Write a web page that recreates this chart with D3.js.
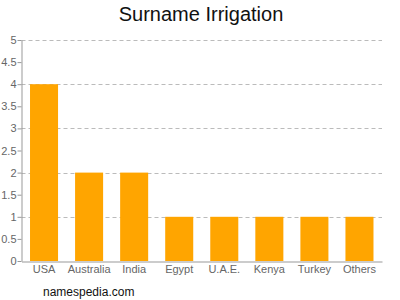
<!DOCTYPE html>
<html>
<head>
<meta charset="utf-8">
<script src="https://cdn.jsdelivr.net/npm/d3@7"></script>
<style>
  body { margin: 0; background: #fff; }
  text { font-family: "Liberation Sans", Arial, sans-serif; }
</style>
</head>
<body>
<div id="chart"></div>
<script>
// chart data
var countries = ["USA", "Australia", "India", "Egypt", "U.A.E.", "Kenya", "Turkey", "Others"];
var counts = [4, 2, 2, 1, 1, 1, 1, 1];
var yTicks = [0, 0.5, 1, 1.5, 2, 2.5, 3, 3.5, 4, 4.5, 5];

var width = 400;
var height = 300;
var margin = { top: 40, right: 18, bottom: 39, left: 21.5 };

var svg = d3.select("#chart").append("svg")
    .attr("width", width)
    .attr("height", height);

var x = d3.scaleBand()
    .domain(countries)
    .range([margin.left, width - margin.right])
    .paddingInner(0.378)
    .paddingOuter(0.189);

var y = d3.scaleLinear()
    .domain([0, 5])
    .range([height - margin.bottom, margin.top]);

// dashed grid
svg.append("g")
    .selectAll("line")
    .data(yTicks.filter(function(d) { return d > 0 && d % 1 === 0; }))
    .enter().append("line")
    .attr("x1", margin.left)
    .attr("x2", width - margin.right)
    .attr("y1", function(d) { return Math.round(y(d)) + 0.5; })
    .attr("y2", function(d) { return Math.round(y(d)) + 0.5; })
    .attr("stroke", "#bbb")
    .attr("stroke-dasharray", "4,3");

// bars
svg.append("g")
    .selectAll("rect")
    .data(countries)
    .enter().append("rect")
    .attr("x", function(d) { return x(d); })
    .attr("y", function(d, i) { return y(counts[i]); })
    .attr("width", x.bandwidth())
    .attr("height", function(d, i) { return y(0) - y(counts[i]); })
    .attr("fill", "#ffa500");

// y axis
var yAxis = svg.append("g")
    .attr("transform", "translate(" + (Math.round(margin.left) - 0.5) + ",0)")
    .call(d3.axisLeft(y).tickValues(yTicks).tickSize(4).tickSizeOuter(0)
        .tickFormat(function(d) { return d; }));
yAxis.select(".domain").attr("stroke", "#999");
yAxis.selectAll(".tick line").attr("stroke", "#999");
yAxis.selectAll(".tick text")
    .attr("fill", "#666")
    .attr("font-size", 11)
    .attr("x", -5);

// x axis
var xAxis = svg.append("g")
    .attr("transform", "translate(0," + (Math.round(y(0)) + 0.5) + ")")
    .call(d3.axisBottom(x).tickSize(0).tickPadding(4));
xAxis.select(".domain").attr("stroke", "#999");
xAxis.selectAll(".tick text")
    .attr("fill", "#666")
    .attr("font-size", 11);

// title
svg.append("text")
    .attr("x", 201)
    .attr("y", 21)
    .attr("text-anchor", "middle")
    .attr("font-size", 20)
    .attr("fill", "#111")
    .text("Surname Irrigation");

// source
svg.append("text")
    .attr("x", 43)
    .attr("y", 296)
    .attr("font-size", 12)
    .attr("fill", "#111")
    .text("namespedia.com");
</script>
</body>
</html>
